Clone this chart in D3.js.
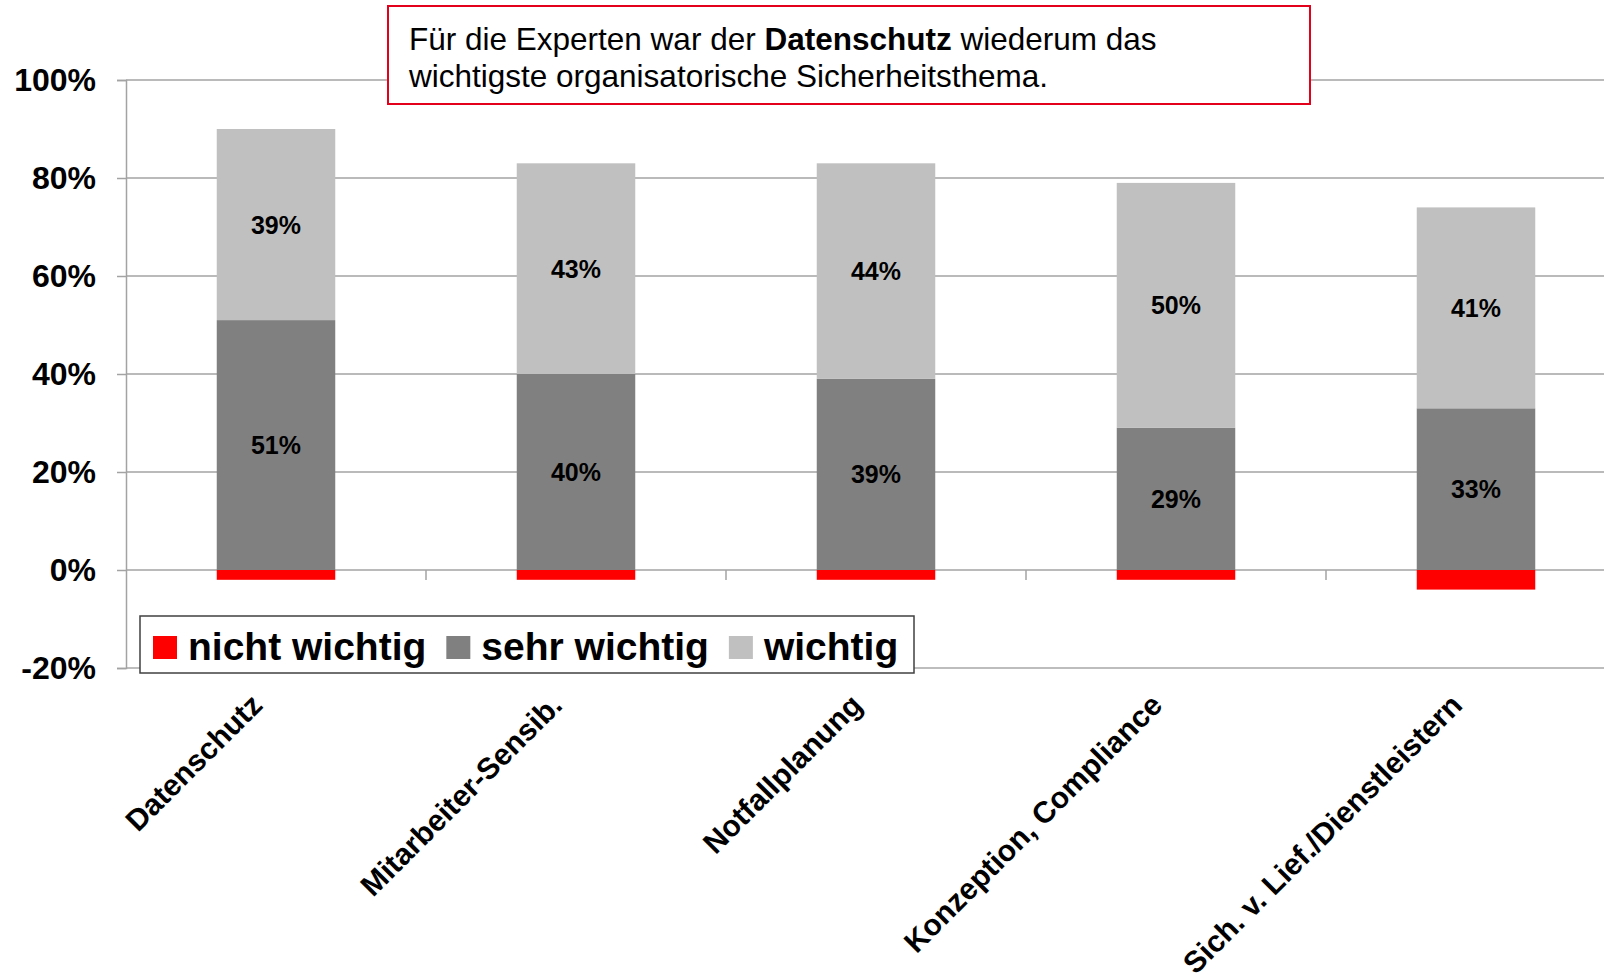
<!DOCTYPE html>
<html>
<head>
<meta charset="utf-8">
<script src="https://cdn.jsdelivr.net/npm/d3@7"></script>
<style>
  body { margin: 0; background: #fff; }
  svg { display: block; font-family: "Liberation Sans", Arial, sans-serif; }
</style>
</head>
<body>
<div id="chart"></div>
<script>
// values (percent)
var categories = ["Datenschutz", "Mitarbeiter-Sensib.", "Notfallplanung", "Konzeption, Compliance", "Sich. v. Lief./Dienstleistern"];
var nichtWichtig = [-2, -2, -2, -2, -4];
var sehrWichtig = [51, 40, 39, 29, 33];
var wichtig = [39, 43, 44, 50, 41];
var yTicks = [-20, 0, 20, 40, 60, 80, 100];
var seriesNames = ["nicht wichtig", "sehr wichtig", "wichtig"];
var seriesColors = ["#ff0000", "#808080", "#c0c0c0"];

var W = 1604, H = 977;
var plotLeft = 126, plotRight = 1626, plotTop = 80, plotBottom = 668;

var svg = d3.select("#chart").append("svg")
    .attr("width", W)
    .attr("height", H);

var x = d3.scaleBand()
    .domain(categories)
    .range([plotLeft, plotRight])
    .paddingInner(0.605)
    .paddingOuter(0.3025);

var y = d3.scaleLinear()
    .domain([-20, 100])
    .range([plotBottom, plotTop]);

// rows for the stack
var rows = categories.map(function (c, i) {
    return { cat: c, "nicht wichtig": nichtWichtig[i], "sehr wichtig": sehrWichtig[i], "wichtig": wichtig[i] };
});
var stacked = d3.stack()
    .keys(seriesNames)
    .offset(d3.stackOffsetDiverging)(rows);

// grid lines
svg.append("g").selectAll("line")
    .data(yTicks)
    .enter().append("line")
    .attr("x1", plotLeft)
    .attr("x2", W)
    .attr("y1", function (d) { return y(d); })
    .attr("y2", function (d) { return y(d); })
    .attr("stroke", function (d) { return d == -20 ? "#bdbdbd" : "#a3a3a3"; })
    .attr("stroke-width", function (d) { return d == -20 ? 2 : 1.5; });

// y axis
var yAxis = svg.append("g")
    .attr("transform", "translate(" + plotLeft + ",0)")
    .call(d3.axisLeft(y).tickValues(yTicks).tickSize(9).tickPadding(21)
        .tickFormat(function (d) { return d + "%"; }));
yAxis.select(".domain").attr("stroke", "#a3a3a3").attr("stroke-width", 1.5);
yAxis.selectAll(".tick line").attr("stroke", "#a3a3a3").attr("stroke-width", 1.5);
yAxis.selectAll(".tick text")
    .attr("font-family", "Liberation Sans, Arial, sans-serif")
    .attr("font-size", 32)
    .attr("font-weight", "bold")
    .attr("fill", "#000");

// category separators on the 0 line
var seps = categories.slice(0, categories.length - 1).map(function (c) {
    return x(c) + x.bandwidth() / 2 + x.step() / 2;
});
svg.append("g").selectAll("line")
    .data(seps)
    .enter().append("line")
    .attr("x1", function (d) { return d; })
    .attr("x2", function (d) { return d; })
    .attr("y1", y(0))
    .attr("y2", y(0) + 10)
    .attr("stroke", "#a3a3a3")
    .attr("stroke-width", 1.5);

// bars
var layers = svg.append("g").selectAll("g")
    .data(stacked)
    .enter().append("g")
    .attr("fill", function (d, i) { return seriesColors[i]; });

layers.selectAll("rect")
    .data(function (d) { return d; })
    .enter().append("rect")
    .attr("x", function (d) { return x(d.data.cat); })
    .attr("width", x.bandwidth())
    .attr("y", function (d) { return y(d[1]); })
    .attr("height", function (d) { return y(d[0]) - y(d[1]); });

// value labels (not for the red part)
layers.filter(function (d, i) { return i > 0; })
    .selectAll("text")
    .data(function (d) { return d; })
    .enter().append("text")
    .attr("x", function (d) { return x(d.data.cat) + x.bandwidth() / 2; })
    .attr("y", function (d) { return (y(d[0]) + y(d[1])) / 2; })
    .attr("dy", "0.36em")
    .attr("text-anchor", "middle")
    .attr("font-size", 25)
    .attr("font-weight", "bold")
    .attr("fill", "#000")
    .text(function (d) { return Math.round(d[1] - d[0]) + "%"; });

// rotated category labels
svg.append("g").selectAll("text")
    .data(categories)
    .enter().append("text")
    .attr("transform", function (d) {
        return "translate(" + (x(d) + x.bandwidth() / 2 - 12) + ",707) rotate(-45)";
    })
    .attr("text-anchor", "end")
    .attr("font-size", 30)
    .attr("font-weight", "bold")
    .attr("fill", "#000")
    .text(function (d) { return d; });

// legend
var legend = svg.append("g");
legend.append("rect")
    .attr("x", 140)
    .attr("y", 616)
    .attr("width", 774)
    .attr("height", 57)
    .attr("fill", "#fff")
    .attr("stroke", "#404040")
    .attr("stroke-width", 1.5);

var lx = 153;
seriesNames.forEach(function (name, i) {
    legend.append("rect")
        .attr("x", lx)
        .attr("y", 636)
        .attr("width", 24)
        .attr("height", 23)
        .attr("fill", seriesColors[i]);
    var t = legend.append("text")
        .attr("x", lx + 35)
        .attr("y", 660)
        .attr("font-size", 39)
        .attr("font-weight", "bold")
        .attr("fill", "#000")
        .text(name);
    lx = lx + 35 + t.node().getComputedTextLength() + 20;
});

// note box at the top
var note = svg.append("g");
note.append("rect")
    .attr("x", 388)
    .attr("y", 6)
    .attr("width", 922)
    .attr("height", 98)
    .attr("fill", "#fff")
    .attr("stroke", "#e2001a")
    .attr("stroke-width", 2);

var line1 = note.append("text")
    .attr("x", 409)
    .attr("y", 50)
    .attr("font-size", 31.5)
    .attr("fill", "#000");
line1.append("tspan").text("Für die Experten war der ");
line1.append("tspan").attr("font-weight", "bold").text("Datenschutz");
line1.append("tspan").text(" wiederum das");

note.append("text")
    .attr("x", 409)
    .attr("y", 87)
    .attr("font-size", 31.5)
    .attr("fill", "#000")
    .text("wichtigste organisatorische Sicherheitsthema.");
</script>
</body>
</html>
